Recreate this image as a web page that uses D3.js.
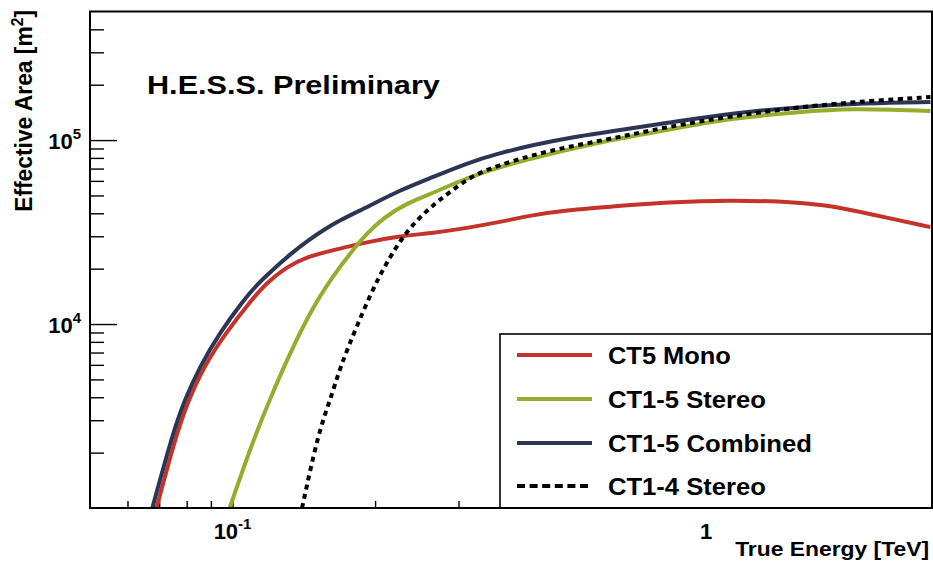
<!DOCTYPE html>
<html><head><meta charset="utf-8">
<script src="https://cdn.jsdelivr.net/npm/d3@7"></script>
<style>
body{margin:0;background:#fff}
svg{display:block}
text{font-family:"Liberation Sans",Arial,Helvetica,sans-serif;font-weight:bold;fill:#000}
</style>
</head><body>
<svg id="chart" width="933" height="570"></svg>
<script>
// ---- data (true energy in TeV, effective area in m^2) ----
const seriesNames = ["CT5 Mono", "CT1-5 Stereo", "CT1-5 Combined", "CT1-4 Stereo"];
const seriesColors = ["#c4332a", "#94ad2c", "#2c3654", "#000000"];

const energyMono = [0.0691, 0.0762, 0.0808, 0.0869, 0.0967, 0.1096, 0.1179, 0.1299, 0.1428, 0.1635, 0.1924, 0.2258, 0.2650, 0.3124, 0.3665, 0.4301, 0.5073, 0.6559, 0.8237, 1.134, 1.570, 1.842, 2.172, 2.977];
const areaMono   = [1000, 2556, 3864, 5840, 8935, 13500, 16700, 20400, 23130, 25250, 27900, 30080, 31240, 33240, 35840, 39120, 41660, 43790, 46030, 47200, 46030, 43790, 40120, 33650];

const energyStereo5 = [0.0986, 0.1096, 0.1197, 0.1325, 0.1474, 0.1608, 0.1772, 0.1924, 0.2079, 0.2335, 0.2650, 0.3124, 0.3665, 0.4301, 0.5073, 0.5954, 0.8237, 1.134, 1.570, 2.000, 2.977];
const areaStereo5   = [1000, 2200, 3864, 7043, 12220, 17340, 24320, 31220, 37690, 45470, 51520, 62170, 71330, 79810, 88250, 97530, 113300, 131700, 142000, 149300, 143800];

const energyCombined = [0.0677, 0.0748, 0.0792, 0.0852, 0.0939, 0.1055, 0.1134, 0.1220, 0.1325, 0.1438, 0.1554, 0.1688, 0.1924, 0.2258, 0.2650, 0.3124, 0.3665, 0.4301, 0.5073, 0.6559, 0.8237, 1.134, 1.570, 2.172, 2.977];
const areaCombined   = [1000, 2556, 3864, 5840, 8935, 13500, 16700, 19900, 24010, 28260, 32430, 36750, 43230, 53460, 62900, 74970, 84980, 93930, 102500, 113300, 123700, 140300, 151200, 158900, 160900];

const energyStereo4 = [0.1402, 0.1517, 0.1608, 0.1688, 0.1833, 0.2030, 0.2258, 0.2452, 0.2650, 0.2877, 0.3217, 0.3665, 0.4301, 0.5073, 0.6559, 0.8237, 1.134, 1.570, 2.172, 2.977];
const areaStereo4   = [1000, 2556, 3864, 5840, 9880, 18000, 28610, 36740, 44340, 52150, 64520, 73140, 82900, 91600, 103800, 117700, 135000, 151200, 162900, 171300];

const xMajorTicks = [0.1, 1];
const xMajorLabels = [["10", "-1"], ["1", ""]];
const xMinorTicks = [0.06, 0.07, 0.08, 0.09, 0.2, 0.3, 0.4, 0.5, 0.6, 0.7, 0.8, 0.9, 2];
const yMajorTicks = [1e4, 1e5];
const yMajorLabels = [["10", "4"], ["10", "5"]];
const yMinorTicks = [2000, 3000, 4000, 5000, 6000, 7000, 8000, 9000, 20000, 30000, 40000, 50000, 60000, 70000, 80000, 90000, 200000, 300000, 400000];

const titleText = "H.E.S.S. Preliminary";
const xTitle = "True Energy [TeV]";
const yTitleMain = "Effective Area [m";
const yTitleSup = "2";
const yTitleEnd = "]";

// ---- layout ----
const L = 90, R = 932, T = 11.5, B = 508;
const svg = d3.select("#chart");
const x = d3.scaleLog().domain([0.05, 3]).range([L, R]);
const y = d3.scaleLog().domain([1000, 5e5]).range([B, T]);

svg.append("defs").append("clipPath").attr("id", "plotclip")
  .append("rect").attr("x", L).attr("y", T).attr("width", R - L).attr("height", B - T);

// axes ticks (inward, ROOT style)
function styleAxis(g) {
  g.select(".domain").remove();
  g.selectAll(".tick line").attr("stroke", "#000").attr("stroke-width", 1.4);
  g.selectAll(".tick text").remove();
}
svg.append("g").attr("transform", `translate(0,${B})`)
  .call(d3.axisBottom(x).tickValues(xMajorTicks).tickSize(-13).tickFormat(""))
  .call(styleAxis);
svg.append("g").attr("transform", `translate(0,${B})`)
  .call(d3.axisBottom(x).tickValues(xMinorTicks).tickSize(-7).tickFormat(""))
  .call(styleAxis);
svg.append("g").attr("transform", `translate(${L},0)`)
  .call(d3.axisLeft(y).tickValues(yMajorTicks).tickSize(-27).tickFormat(""))
  .call(styleAxis);
svg.append("g").attr("transform", `translate(${L},0)`)
  .call(d3.axisLeft(y).tickValues(yMinorTicks).tickSize(-14).tickFormat(""))
  .call(styleAxis);

// tick labels
xMajorTicks.forEach((v, i) => {
  const t = svg.append("text").attr("x", x(v)).attr("y", 539).attr("text-anchor", "middle").style("font-size", "22px");
  t.append("tspan").text(xMajorLabels[i][0]);
  if (xMajorLabels[i][1]) t.append("tspan").attr("dy", -10).style("font-size", "15px").text(xMajorLabels[i][1]);
});
yMajorTicks.forEach((v, i) => {
  const t = svg.append("text").attr("x", 81).attr("y", y(v) + 9).attr("text-anchor", "end").style("font-size", "22px");
  t.append("tspan").text(yMajorLabels[i][0]);
  t.append("tspan").attr("dy", -10).style("font-size", "15px").text(yMajorLabels[i][1]);
});

// curves
const series = [
  {e: energyMono, a: areaMono},
  {e: energyStereo5, a: areaStereo5},
  {e: energyCombined, a: areaCombined},
  {e: energyStereo4, a: areaStereo4}
];
const line = d3.line().x(d => x(d[0])).y(d => y(d[1])).curve(d3.curveBasis);
const curves = svg.append("g").attr("clip-path", "url(#plotclip)");
series.forEach((s, i) => {
  const pts = s.e.map((e, j) => [e, s.a[j]]);
  curves.append("path").datum(pts).attr("d", line)
    .attr("fill", "none").attr("stroke", seriesColors[i])
    .attr("stroke-width", 4)
    .attr("stroke-dasharray", i === 3 ? "5,4.5" : null);
});

// fitted text helper
function fitText(parent, tx, ty, str, size, width, anchor, rot) {
  const g = parent.append("g").attr("transform", `translate(${tx},${ty})` + (rot ? ` rotate(${rot})` : ""));
  const t = g.append("text").attr("text-anchor", anchor).style("font-size", size + "px");
  if (Array.isArray(str)) {
    t.append("tspan").text(str[0]);
    t.append("tspan").attr("dy", -9).style("font-size", (size * 0.68) + "px").text(str[1]);
    t.append("tspan").attr("dy", 9).text(str[2]);
  } else t.text(str);
  const w = t.node().getComputedTextLength();
  t.attr("transform", `scale(${width / w},1)`);
  return t;
}

// title
fitText(svg, 147, 94, titleText, 26, 293, "start");

// legend
const lg = svg.append("g");
lg.append("rect").attr("x", 500).attr("y", 334).attr("width", R - 500).attr("height", B - 334)
  .attr("fill", "#fff").attr("stroke", "#000").attr("stroke-width", 1.6);
const rows = [355, 399, 443, 486];
const legW = [123, 158, 204, 158];
seriesNames.forEach((n, i) => {
  lg.append("line").attr("x1", 517).attr("x2", 592).attr("y1", rows[i]).attr("y2", rows[i])
    .attr("stroke", seriesColors[i]).attr("stroke-width", 4)
    .attr("stroke-dasharray", i === 3 ? "8,4.6" : null);
  fitText(lg, 608, rows[i] + 8.5, n, 24, legW[i], "start");
});

// axis titles
fitText(svg, 929, 556, xTitle, 21, 194, "end");
fitText(svg, 32, 10, [yTitleMain, yTitleSup, yTitleEnd], 24, 202, "end", -90);

// frame
svg.append("rect").attr("x", L).attr("y", T).attr("width", R - L).attr("height", B - T)
  .attr("fill", "none").attr("stroke", "#000").attr("stroke-width", 2);
</script>
</body></html>
